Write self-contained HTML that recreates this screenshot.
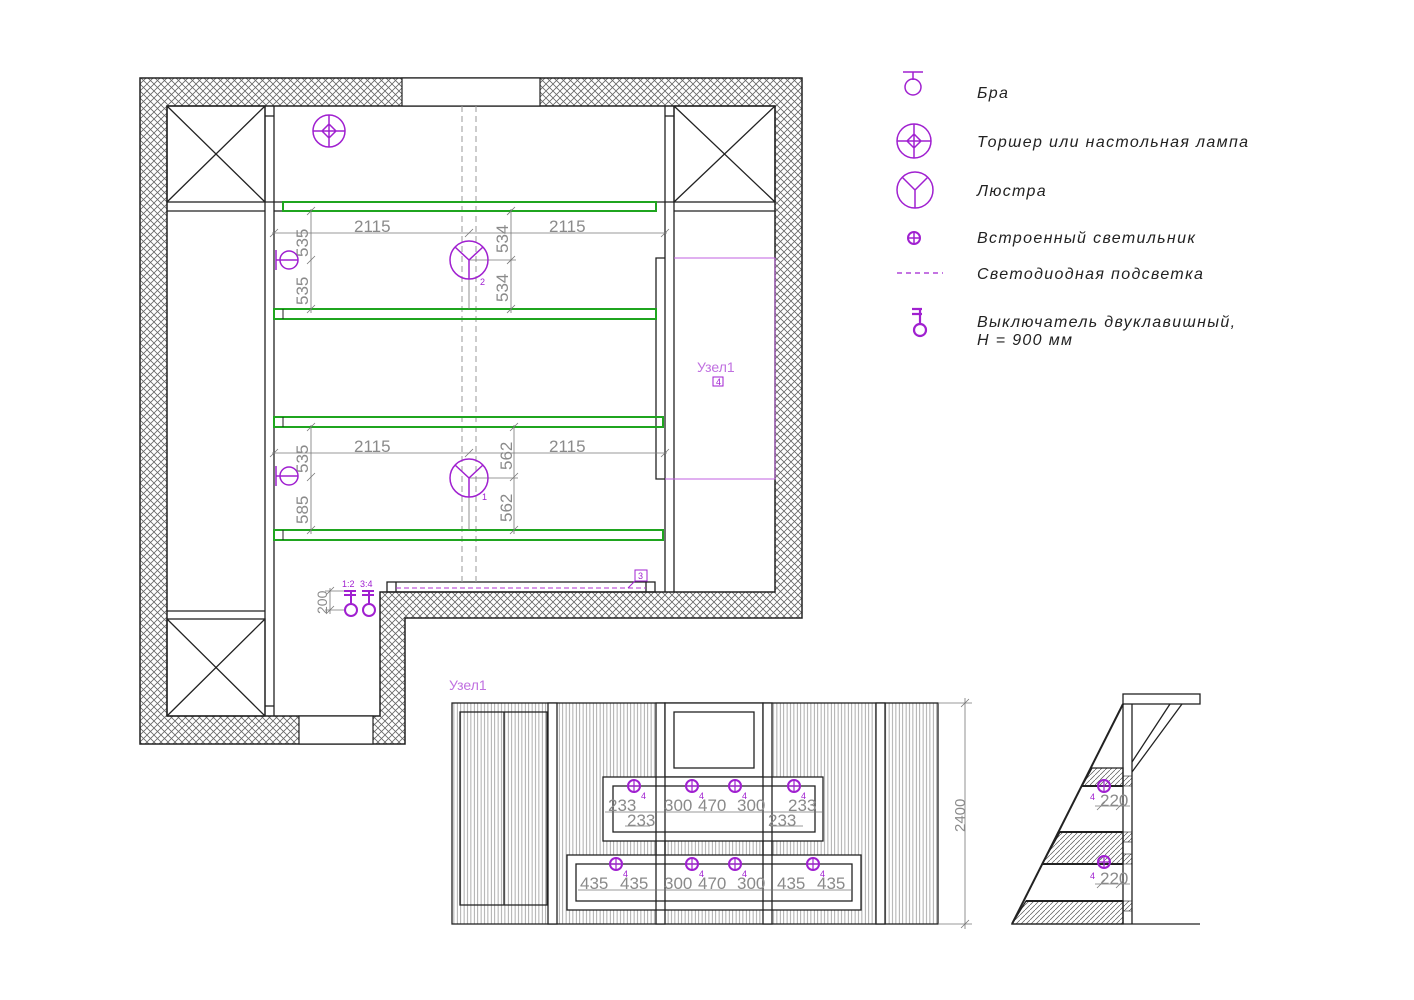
<!DOCTYPE html>
<html><head><meta charset="utf-8"><style>
html,body{margin:0;padding:0;background:#fff;}
svg{display:block;}
.dim{font-family:"Liberation Sans",sans-serif;fill:#8a8a8a;font-size:17px;}
.leg{font-family:"Liberation Sans",sans-serif;font-style:italic;fill:#222;font-size:16px;letter-spacing:1.35px;}
.mg{fill:none;stroke:#a020d0;stroke-width:1.5;}
</style></head><body>
<svg width="1414" height="1000" viewBox="0 0 1414 1000" xmlns="http://www.w3.org/2000/svg">
<defs>
<pattern id="ch" width="7" height="7" patternUnits="userSpaceOnUse">
<path d="M0,0L7,7M7,0L0,7" stroke="#666" stroke-width="0.8"/>
</pattern>
<pattern id="vl" width="3.4" height="10" patternUnits="userSpaceOnUse">
<line x1="1.7" y1="0" x2="1.7" y2="10" stroke="#888" stroke-width="0.7"/>
</pattern>
<pattern id="dg" width="5" height="5" patternUnits="userSpaceOnUse">
<path d="M0,5L5,0" stroke="#555" stroke-width="0.7"/>
</pattern>
</defs>

<!-- walls -->
<path d="M140,78H802V618H405V744H140Z M167,106V716H380V592H775V106Z" fill="url(#ch)" fill-rule="evenodd" stroke="#222" stroke-width="1.5"/>
<rect x="402" y="78" width="138" height="28" fill="#fff" stroke="#222" stroke-width="1.2"/>
<rect x="299" y="716" width="74" height="28" fill="#fff" stroke="#222" stroke-width="1.2"/>

<g stroke="#222" stroke-width="1.3" fill="none">
<line x1="265" y1="106" x2="265" y2="716"/><line x1="274" y1="106" x2="274" y2="716"/>
<line x1="265" y1="116" x2="274" y2="116"/><line x1="265" y1="706" x2="274" y2="706"/>
<rect x="167" y="106" width="98" height="96"/><path d="M167,106L265,202M265,106L167,202"/>
<line x1="167" y1="211" x2="265" y2="211"/>
<line x1="167" y1="611" x2="265" y2="611"/>
<rect x="167" y="619" width="98" height="97"/><path d="M167,619L265,716M265,619L167,716"/>
<line x1="665" y1="106" x2="665" y2="592"/><line x1="674" y1="106" x2="674" y2="592"/>
<line x1="665" y1="116" x2="674" y2="116"/>
<rect x="674" y="106" width="101" height="96"/><path d="M674,106L775,202M775,106L674,202"/>
<line x1="674" y1="211" x2="775" y2="211"/>
<line x1="265" y1="202" x2="283" y2="202"/><line x1="656" y1="202" x2="674" y2="202"/>
<line x1="274" y1="211" x2="283" y2="211"/>
<path d="M665,258H656V479H665"/>
<rect x="387" y="582" width="268" height="10"/>
<line x1="396" y1="582" x2="396" y2="592"/><line x1="646" y1="582" x2="646" y2="592"/>
</g>
<g stroke="#999" stroke-width="1" stroke-dasharray="6,4">
<line x1="462" y1="106" x2="462" y2="582"/><line x1="476" y1="106" x2="476" y2="582"/>
</g>
<g fill="none" stroke="#1fa51f" stroke-width="2">
<rect x="283" y="202" width="373" height="9"/>
<rect x="274" y="309" width="382" height="10"/>
<rect x="274" y="417" width="389" height="10"/>
<rect x="274" y="530" width="389" height="10"/>
</g>
<g stroke="#222" stroke-width="1"><line x1="283" y1="309" x2="283" y2="319"/><line x1="283" y1="417" x2="283" y2="427"/><line x1="283" y1="530" x2="283" y2="540"/></g>
<path d="M674,258H775V479H665" fill="none" stroke="#c060e0" stroke-width="1"/>
<line x1="396" y1="588" x2="646" y2="588" stroke="#b030d0" stroke-width="1" stroke-dasharray="5,3"/>

<g stroke="#777" stroke-width="0.8" fill="none">
<line x1="272" y1="233" x2="667" y2="233"/>
<path d="M270,237l8,-8M465,237l8,-8M661,237l8,-8"/>
<line x1="311" y1="209" x2="311" y2="313"/>
<path d="M307,215l8,-8M307,264l8,-8M307,313l8,-8"/>
<line x1="511" y1="209" x2="511" y2="313"/><line x1="469" y1="260" x2="516" y2="260"/>
<path d="M507,215l8,-8M507,264l8,-8M507,313l8,-8"/>
<line x1="272" y1="453" x2="667" y2="453"/>
<path d="M270,457l8,-8M465,457l8,-8M661,457l8,-8"/>
<line x1="311" y1="425" x2="311" y2="534"/>
<path d="M307,431l8,-8M307,481l8,-8M307,534l8,-8"/>
<line x1="514" y1="425" x2="514" y2="534"/><line x1="469" y1="478" x2="518" y2="478"/>
<path d="M510,431l8,-8M510,481l8,-8M510,534l8,-8"/>
<line x1="469" y1="260" x2="469" y2="309"/><line x1="469" y1="478" x2="469" y2="530"/>
<line x1="330" y1="588" x2="330" y2="614"/><line x1="325" y1="591" x2="345" y2="591"/><line x1="325" y1="610" x2="345" y2="610"/>
<path d="M326,595l8,-8M326,614l8,-8"/>
</g>
<g class="dim">
<text x="354" y="232">2115</text><text x="549" y="232">2115</text>
<text x="354" y="452">2115</text><text x="549" y="452">2115</text>
<text transform="translate(308,257) rotate(-90)">535</text>
<text transform="translate(308,305) rotate(-90)">535</text>
<text transform="translate(508,253) rotate(-90)">534</text>
<text transform="translate(508,302) rotate(-90)">534</text>
<text transform="translate(308,473) rotate(-90)">535</text>
<text transform="translate(308,524) rotate(-90)">585</text>
<text transform="translate(512,470) rotate(-90)">562</text>
<text transform="translate(512,522) rotate(-90)">562</text>
<text transform="translate(327,614) rotate(-90)" font-size="14">200</text>
</g>

<g class="mg">
<circle cx="329" cy="131" r="16"/><path d="M313,131H345M329,115V147M329,124L336,131L329,138L322,131Z"/>
<circle cx="469" cy="260" r="19"/><path d="M469,260V279M469,260L455,247M469,260L483,247"/>
<circle cx="469" cy="478" r="19"/><path d="M469,478V497M469,478L455,465M469,478L483,465"/>
<circle cx="289" cy="260" r="9"/><path d="M276,250V270M276,260H298"/>
<circle cx="289" cy="476" r="9"/><path d="M276,466V486M276,476H298"/>
<rect x="713" y="377" width="10" height="9" stroke-width="1"/>
<rect x="635" y="570" width="12" height="11" stroke-width="1"/><path d="M635,581L628,588" stroke-width="1"/>
</g>
<g stroke="#a020d0" stroke-width="2" fill="none">
<path d="M344,591H356M344,595H356M351,591V604"/><circle cx="351" cy="610" r="6"/>
<path d="M362,591H374M362,595H374M369,591V604"/><circle cx="369" cy="610" r="6"/>
</g>
<g font-family="Liberation Sans,sans-serif" fill="#a020d0">
<text x="480" y="285" font-size="9">2</text><text x="482" y="500" font-size="9">1</text>
<text x="342" y="587" font-size="9">1:2</text><text x="360" y="587" font-size="9">3:4</text>
<text x="638" y="579" font-size="9">3</text>
<text x="716" y="385" font-size="9">4</text>
<text x="697" y="372" font-size="14" fill="#c070e0">Узел1</text>
<text x="449" y="690" font-size="14" fill="#c070e0">Узел1</text>
</g>

<g class="mg">
<path d="M903,72H923M913,72V80"/><circle cx="913" cy="87" r="8"/>
<circle cx="914" cy="141" r="17"/><path d="M897,141H931M914,124V158M914,134L921,141L914,148L907,141Z"/>
<circle cx="915" cy="190" r="18"/><path d="M915,190V208M915,190L902,177M915,190L928,177"/>
<circle cx="914" cy="238" r="6" stroke-width="2"/><path d="M908,238H920M914,232V244" stroke-width="1.5"/>
<line x1="897" y1="273" x2="943" y2="273" stroke-dasharray="5,4" stroke-width="1.2"/>
</g>
<g stroke="#a020d0" stroke-width="2.2" fill="none"><path d="M912,309H922M912,314H922M920,309V325"/><circle cx="920" cy="330" r="6"/></g>
<g class="leg">
<text x="977" y="98">Бра</text>
<text x="977" y="147">Торшер  или  настольная  лампа</text>
<text x="977" y="196">Люстра</text>
<text x="977" y="243">Встроенный  светильник</text>
<text x="977" y="279">Светодиодная  подсветка</text>
<text x="977" y="327">Выключатель  двуклавишный,</text>
<text x="977" y="345">H  =  900  мм</text>
</g>

<!-- elevation -->
<rect x="452" y="703" width="486" height="221" fill="url(#vl)" stroke="#222" stroke-width="1.3"/>
<g stroke="#222" stroke-width="1.3" fill="#fff">
<rect x="460" y="712" width="87" height="193" fill="none"/><line x1="504" y1="712" x2="504" y2="905"/>
<rect x="548" y="703" width="9" height="221"/>
<rect x="656" y="703" width="9" height="221"/>
<rect x="665" y="703" width="98" height="74"/>
<rect x="674" y="712" width="80" height="56"/>
<rect x="763" y="703" width="9" height="221"/>
<rect x="876" y="703" width="9" height="221"/>
<rect x="603" y="777" width="220" height="64"/>
<rect x="613" y="786" width="202" height="46" fill="none"/>
<rect x="567" y="855" width="294" height="55"/>
<rect x="576" y="864" width="276" height="37" fill="none"/>
<line x1="656" y1="777" x2="656" y2="910"/><line x1="665" y1="777" x2="665" y2="910"/>
<line x1="763" y1="777" x2="763" y2="910"/><line x1="772" y1="777" x2="772" y2="910"/>
</g>
<g stroke="#777" stroke-width="0.8" fill="none">
<line x1="605" y1="812" x2="823" y2="812"/><line x1="625" y1="826" x2="650" y2="826"/><line x1="770" y1="826" x2="803" y2="826"/>
<line x1="578" y1="890" x2="852" y2="890"/>
<line x1="938" y1="703" x2="972" y2="703"/><line x1="938" y1="924" x2="972" y2="924"/><line x1="965" y1="698" x2="965" y2="929"/>
<path d="M961,707l8,-8M961,928l8,-8"/>
</g>
<g class="dim" font-size="16">
<text x="608" y="811">233</text><text x="627" y="826">233</text>
<text x="664" y="811">300</text><text x="698" y="811">470</text><text x="737" y="811">300</text>
<text x="788" y="811">233</text><text x="768" y="826">233</text>
<text x="580" y="889">435</text><text x="620" y="889">435</text>
<text x="664" y="889">300</text><text x="698" y="889">470</text><text x="737" y="889">300</text>
<text x="777" y="889">435</text><text x="817" y="889">435</text>
<text transform="translate(965,832) rotate(-90)" font-size="15">2400</text>
</g>
<g stroke="#a020d0" stroke-width="2" fill="none">
<circle cx="634" cy="786" r="6"/><circle cx="692" cy="786" r="6"/><circle cx="735" cy="786" r="6"/><circle cx="794" cy="786" r="6"/>
<circle cx="616" cy="864" r="6"/><circle cx="692" cy="864" r="6"/><circle cx="735" cy="864" r="6"/><circle cx="813" cy="864" r="6"/>
<path d="M628,786H640M634,780V792M686,786H698M692,780V792M729,786H741M735,780V792M788,786H800M794,780V792M610,864H622M616,858V870M686,864H698M692,858V870M729,864H741M735,858V870M807,864H819M813,858V870" stroke-width="1.2"/>
</g>
<g font-family="Liberation Sans,sans-serif" font-size="9" fill="#a020d0">
<text x="641" y="799">4</text><text x="699" y="799">4</text><text x="742" y="799">4</text><text x="801" y="799">4</text>
<text x="623" y="877">4</text><text x="699" y="877">4</text><text x="742" y="877">4</text><text x="820" y="877">4</text>
</g>

<!-- side section -->
<g stroke="#222" stroke-width="1.3" fill="none">
<path d="M1092,768H1123V786H1082Z" fill="url(#dg)"/>
<path d="M1060,832H1123V864H1042Z" fill="url(#dg)"/>
<path d="M1026,901H1123V924H1012Z" fill="url(#dg)"/>
<rect x="1123" y="776" width="9" height="10" fill="url(#dg)" stroke-width="0.6"/>
<rect x="1123" y="832" width="9" height="10" fill="url(#dg)" stroke-width="0.6"/>
<rect x="1123" y="854" width="9" height="10" fill="url(#dg)" stroke-width="0.6"/>
<rect x="1123" y="901" width="9" height="10" fill="url(#dg)" stroke-width="0.6"/>
<rect x="1123" y="694" width="77" height="10" fill="#fff"/>
<line x1="1123" y1="704" x2="1123" y2="924"/><line x1="1132" y1="704" x2="1132" y2="924"/>
<line x1="1123" y1="704" x2="1012" y2="924" stroke-width="2"/>
<line x1="1012" y1="924" x2="1200" y2="924"/>
<line x1="1170" y1="704" x2="1132" y2="762"/><line x1="1182" y1="704" x2="1132" y2="772"/>
<line x1="1082" y1="786" x2="1123" y2="786" stroke-width="2"/>
<line x1="1042" y1="864" x2="1123" y2="864" stroke-width="2"/>
<line x1="1060" y1="832" x2="1123" y2="832" stroke-width="2"/>
<line x1="1026" y1="901" x2="1123" y2="901" stroke-width="2"/>
</g>
<g stroke="#777" stroke-width="0.8"><line x1="1095" y1="806" x2="1130" y2="806"/><line x1="1095" y1="884" x2="1130" y2="884"/>
<path d="M1097,810l8,-8M1116,810l8,-8M1097,888l8,-8M1116,888l8,-8"/></g>
<g class="dim" font-size="16"><text x="1100" y="806">220</text><text x="1100" y="884">220</text></g>
<g stroke="#a020d0" stroke-width="2" fill="none"><circle cx="1104" cy="786" r="6"/><circle cx="1104" cy="862" r="6"/>
<path d="M1098,786H1110M1104,780V792M1098,862H1110M1104,856V868" stroke-width="1.2"/></g>
<g font-family="Liberation Sans,sans-serif" font-size="9" fill="#a020d0"><text x="1090" y="800">4</text><text x="1090" y="879">4</text></g>
</svg>
</body></html>
